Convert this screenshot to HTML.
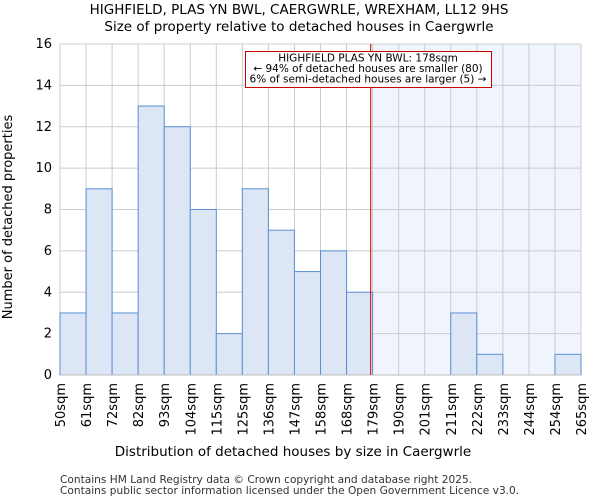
<!DOCTYPE html>
<html><head><meta charset="utf-8"><style>
body{margin:0;background:#fff;font-family:"DejaVu Sans","Liberation Sans",sans-serif;}
svg text{font-family:"DejaVu Sans","Liberation Sans",sans-serif;}
</style></head><body>
<svg id="chart" width="600" height="500">
<text x="299" y="14" font-size="13.5" text-anchor="middle">HIGHFIELD, PLAS YN BWL, CAERGWRLE, WREXHAM, LL12 9HS</text>
<text x="299" y="31" font-size="13.5" text-anchor="middle">Size of property relative to detached houses in Caergwrle</text>
<g id="plot"></g>
<text x="293" y="456" font-size="13.5" text-anchor="middle">Distribution of detached houses by size in Caergwrle</text>
<text transform="translate(12,217) rotate(-90)" font-size="13" text-anchor="middle">Number of detached properties</text>
<text x="60" y="483" font-size="10.6" fill="#333">Contains HM Land Registry data © Crown copyright and database right 2025.</text>
<text x="60" y="494" font-size="10.6" fill="#333">Contains public sector information licensed under the Open Government Licence v3.0.</text>
</svg>
<script>
const binLabels=["50sqm","61sqm","72sqm","82sqm","93sqm","104sqm","115sqm","125sqm","136sqm","147sqm","158sqm","168sqm","179sqm","190sqm","201sqm","211sqm","222sqm","233sqm","244sqm","254sqm","265sqm"];
const counts=[3,9,3,13,12,8,2,9,7,5,6,4,0,0,0,3,1,0,0,1];
const yTicks=[0,2,4,6,8,10,12,14,16];
const markerValue=178;
const binStart=50, binWidthSqm=10.75;
const NS="http://www.w3.org/2000/svg";
const X0=60,X1=581,Y0=375,Y1=44;
const bw=(X1-X0)/counts.length;
const y=v=>Y0-(v/16)*(Y0-Y1);
const xs=s=>X0+(s-binStart)/binWidthSqm*bw;
const g=document.getElementById('plot');
function mk(t,a){const e=document.createElementNS(NS,t);for(const k in a)e.setAttribute(k,a[k]);g.appendChild(e);return e;}
const mx=xs(markerValue)+1;
let e=mk('rect',{x:mx,y:Y1,width:X1-mx,height:Y0-Y1,fill:'#f0f4fc'});


yTicks.forEach(t=>{let l=mk('line',{x1:X0,x2:X1,y1:y(t),y2:y(t),stroke:'#ccc'});


let tx=mk('text',{x:X0-8,y:y(t)+4,'font-size':13,'text-anchor':'end'});tx.textContent=t;

});
binLabels.forEach((b,i)=>{const xx=X0+i*bw;let l=mk('line',{x1:xx,x2:xx,y1:Y1,y2:Y0,stroke:'#ccc'});


let tx=mk('text',{transform:`translate(${xx+5},${Y0+8}) rotate(-90)`,'font-size':13,'text-anchor':'end'});tx.textContent=b;

});
counts.forEach((c,i)=>{if(c<=0)return;let r=mk('rect',{x:X0+i*bw,y:y(c),width:bw,height:Y0-y(c),fill:'#dce6f4',stroke:'#5b8fd6','stroke-width':1});

});
let ax=mk('line',{x1:X0,x2:X1,y1:Y0,y2:Y0,stroke:'#bbb'});


let ml=mk('line',{x1:mx-0.5,x2:mx-0.5,y1:Y1,y2:Y0,stroke:'#cc0000','stroke-width':1});


let bx=mk('rect',{x:245.5,y:51.5,width:246,height:36,fill:'#fff',stroke:'#cc0000'});


["HIGHFIELD PLAS YN BWL: 178sqm","← 94% of detached houses are smaller (80)","6% of semi-detached houses are larger (5) →"].forEach((s,i)=>{let t=mk('text',{x:368,y:61.5+i*10.5,'font-size':10.5,'text-anchor':'middle'});t.textContent=s;

});
</script>
</body></html>
